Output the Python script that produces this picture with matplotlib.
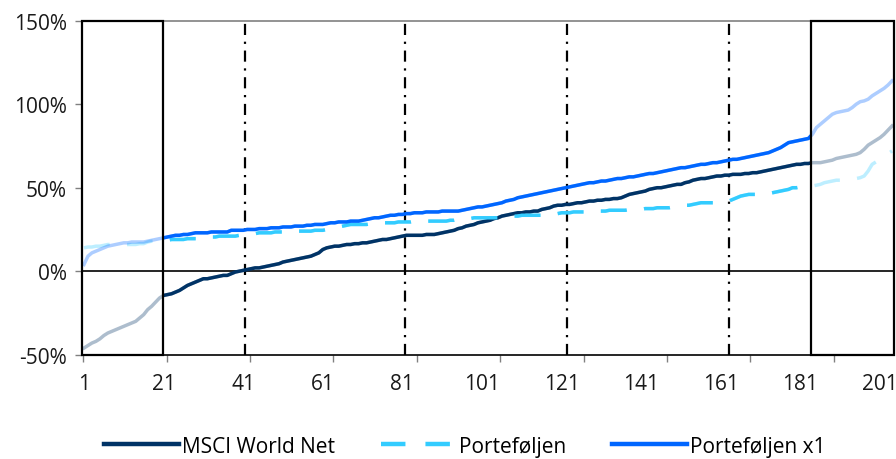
import matplotlib
matplotlib.use("Agg")
import matplotlib.pyplot as plt
from matplotlib.patches import Rectangle
import numpy as np

plt.rcParams['font.family'] = ['Open Sans', 'DejaVu Sans']

msci = [
    -46, -44.5, -43, -42, -40.5, -38.5, -37, -36, -35, -34,
    -33, -32, -31, -30, -28, -26, -23, -21, -18.5, -16,
    -14.5, -14, -13.5, -12.5, -11.5, -10, -8.5, -7.5, -6.5, -5.5,
    -4.5, -4.5, -4, -3.5, -3, -2.5, -2.5, -1.5, -0.5, 0,
    0.5, 1, 1.5, 2, 2, 2.5, 3, 3.5, 4, 4.5,
    5.5, 6, 6.5, 7, 7.5, 8, 8.5, 9, 10, 11,
    13, 14, 14.5, 15, 15, 15.5, 16, 16, 16.5, 16.5,
    17, 17, 17.5, 18, 18.5, 19, 19, 19.5, 20, 20.5,
    21, 21.5, 21.5, 21.5, 21.5, 21.5, 22, 22, 22, 22.5,
    23, 23.5, 24, 24.5, 25.5, 26, 27, 27.5, 28, 29,
    29.5, 30, 30.5, 31.5, 32, 33, 33.5, 34, 34.5, 35,
    35, 35.5, 35.5, 36, 36, 37, 37.5, 38, 39, 39.5,
    39.5, 40, 40, 40.5, 41, 41, 41.5, 42, 42, 42.5,
    42.5, 43, 43, 43.5, 43.5, 44, 45, 46, 46.5, 47,
    47.5, 48, 49, 49.5, 50, 50, 50.5, 51, 51.5, 52,
    52, 53, 53.5, 54.5, 55, 55.5, 55.5, 56, 56.5, 57,
    57, 57.5, 57.5, 58, 58, 58, 58.5, 58.5, 59, 59,
    59.5, 60, 60.5, 61, 61.5, 62, 62.5, 63, 63.5, 64,
    64, 64.5, 64.5, 65, 65, 65, 65.5, 66, 66.5, 67.5,
    68, 68.5, 69, 69.5, 70, 71, 73, 75.5, 77, 78.5, 80, 82, 84.5, 87,
]

portef = [
    14, 14.5, 14.5, 15, 15, 15.5, 16, 16, 16, 16,
    16, 16, 16, 16, 16.5, 16.5, 17.5, 18, 18, 18,
    18.5, 18.5, 19, 19, 19, 19, 19.5, 19.5, 19.5, 19.5,
    20, 20, 20.5, 20.5, 21, 21, 21, 21, 21, 21.5,
    21.5, 22, 22, 22.5, 23, 23, 23, 23, 23.5, 23.5,
    23.5, 23.5, 24, 24, 24, 24, 24, 24, 24.5, 24.5,
    24.5, 25, 25.5, 26, 26.5, 27, 27.5, 28, 28, 28,
    28, 28, 28.5, 28.5, 28.5, 29, 29, 29, 29, 29.5,
    29.5, 29.5, 29.5, 30, 30, 30, 30, 30, 30, 30,
    30, 30, 30.5, 30.5, 31, 31.5, 31.5, 31.5, 32, 32,
    32, 32, 32, 32, 32, 32.5, 32.5, 33, 33, 33,
    33.5, 33.5, 33.5, 33.5, 33.5, 33.5, 34, 34, 34.5, 34.5,
    35, 35, 35, 35.5, 35.5, 35.5, 35.5, 35.5, 36, 36,
    36, 36, 36.5, 36.5, 36.5, 36.5, 36.5, 37, 37, 37,
    37, 37.5, 37.5, 37.5, 38, 38, 38, 38, 38.5, 38.5,
    39, 39.5, 39.5, 40, 40.5, 41, 41, 41, 41, 41,
    41.5, 41.5, 42, 43, 44, 45, 45.5, 46, 46, 46,
    46, 46.5, 46.5, 47, 47.5, 48, 48.5, 49, 50, 50,
    50.5, 50.5, 51, 51, 51.5, 52, 53, 53.5, 54, 54.5,
    54.5, 54.5, 55, 55, 55.5, 56, 57, 60, 64, 65.5, 67, 68.5, 70.5, 72,
]

portef_x1 = [
    4, 9, 11, 12, 13, 14, 15, 15.5, 16, 16.5,
    17, 17, 17.5, 17.5, 17.5, 17.5, 18, 18.5, 19, 19.5,
    20, 20.5, 21, 21.5, 21.5, 22, 22, 22.5, 23, 23,
    23, 23, 23.5, 23.5, 23.5, 23.5, 23.5, 24.5, 24.5, 24.5,
    24.5, 25, 25, 25, 25.5, 25.5, 25.5, 26, 26, 26,
    26.5, 26.5, 26.5, 27, 27, 27, 27.5, 27.5, 28, 28,
    28, 28.5, 29, 29, 29.5, 29.5, 29.5, 30, 30, 30,
    30.5, 31, 31.5, 32, 32, 32.5, 33, 33.5, 33.5, 34,
    34, 34.5, 34.5, 35, 35, 35, 35.5, 35.5, 35.5, 35.5,
    36, 36, 36, 36, 36, 36.5, 37, 37.5, 38, 38.5,
    38.5, 39, 39.5, 40, 40.5, 41, 42, 42.5, 43, 44,
    44.5, 45, 45.5, 46, 46.5, 47, 47.5, 48, 48.5, 49,
    49.5, 50, 50.5, 51, 51.5, 52, 52.5, 53, 53, 53.5,
    54, 54, 54.5, 55, 55.5, 55.5, 56, 56.5, 56.5, 57,
    57.5, 58, 58.5, 58.5, 59, 59.5, 60, 60.5, 61, 61.5,
    62, 62, 62.5, 63, 63.5, 64, 64, 64.5, 65, 65,
    65.5, 66, 66.5, 67, 67, 67.5, 68, 68.5, 69, 69.5,
    70, 70.5, 71, 72, 73, 74, 75.5, 77, 77.5, 78,
    78.5, 79, 79.5, 82, 86, 88, 90, 92, 94, 95,
    95.5, 96, 96.5, 98, 100, 101.5, 102, 103, 105, 106.5, 108, 109.5, 111.5, 114,
]

labels = ['MSCI World Net', 'Porteføljen', 'Porteføljen x1']
colors = ['#003366', '#33ccff', '#0066ff']
x_ticks = list(range(1, 202, 20))
y_ticks = [-50, 0, 50, 100, 150]

x = np.arange(1, len(msci) + 1)

fig = plt.figure(figsize=(8.96, 4.6), dpi=100)
ax = fig.add_axes([0.0915, 0.2267, 0.9063, 0.7261])

lo_edge, hi_edge = 20.9, 183.6         # 10% tails (boxes)
quint = [41.4, 81.6, 122.3, 163.1]     # quintile separators
clip = Rectangle((lo_edge, -60), hi_edge - lo_edge, 220, transform=ax.transData)

series = [msci, portef, portef_x1]
styles = ['-', (0, (7.5, 5)), '-']
for s, c, ls, lab in zip(series, colors, styles, labels):
    ax.plot(x, s, color=c, lw=2.5, ls=ls, alpha=0.32, zorder=3)
    ln, = ax.plot(x, s, color=c, lw=2.5, ls=ls, zorder=4, label=lab)
    ln.set_clip_path(clip)

ax.axhline(0, color='black', lw=1.2, zorder=2)
for q in quint:
    ax.axvline(q, color='black', lw=1.6, ls=(0, (5, 3, 1, 3)), zorder=2)

for x0, x1 in [(0.5, lo_edge), (hi_edge, 204.5)]:
    ax.add_patch(Rectangle((x0, -50), x1 - x0, 200, fill=False,
                           ec='black', lw=1.6, zorder=6, clip_on=False))

ax.set_xlim(0.5, 204.5)
ax.set_ylim(-50, 150)
ax.set_yticks(y_ticks)
ax.set_yticklabels([f'{v}%' for v in y_ticks])
ax.set_xticks(x_ticks)
ax.set_xticks(np.arange(0.8, 200, 20.95), minor=True)
ax.tick_params(axis='x', which='major', length=0, pad=13, labelsize=15, colors='#1a1a1a')
ax.tick_params(axis='x', which='minor', length=5, width=1, color='#808080')
ax.tick_params(axis='y', length=5, width=1, color='#808080', labelsize=15,
               labelcolor='#1a1a1a', pad=6)

for side in ['top', 'bottom', 'left']:
    ax.spines[side].set_color('#808080')
    ax.spines[side].set_linewidth(1.2)
ax.spines['left'].set_color('black')
ax.spines['bottom'].set_color('black')
ax.spines['right'].set_visible(False)

leg_handles = [plt.Line2D([], [], color=c, lw=3.2, ls=ls)
               for c, ls in zip(colors, ['-', (0, (5.5, 4.5)), '-'])]
fig.legend(leg_handles, labels, loc='center left', bbox_to_anchor=(0.116, 0.028), ncol=3,
           frameon=False, fontsize=15, handlelength=3.6, handletextpad=0.15,
           columnspacing=2.2, borderpad=0, borderaxespad=0)

fig.savefig('out.png', dpi=100)
